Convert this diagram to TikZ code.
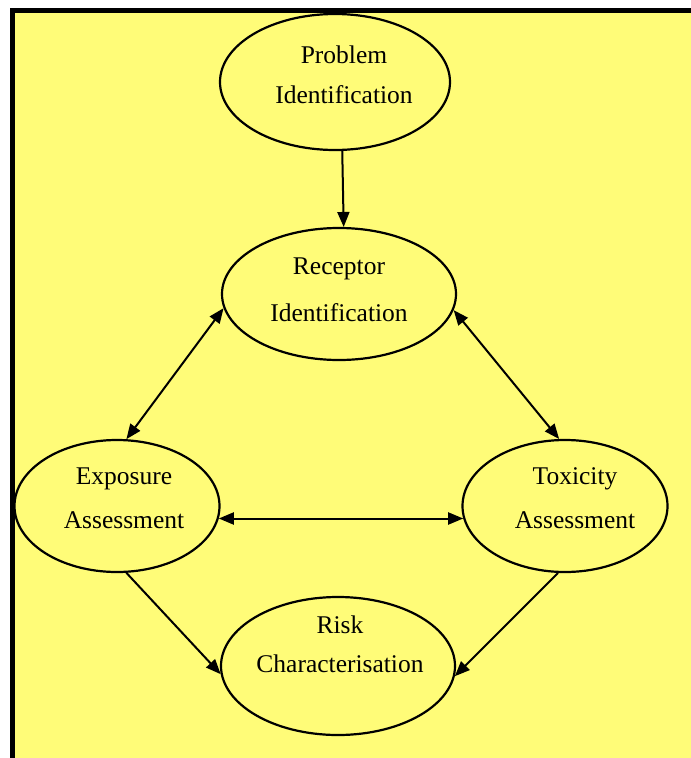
\documentclass[tikz,border=0pt]{standalone}
\usepackage{fontspec}
\setmainfont{Liberation Serif}
\usetikzlibrary{arrows.meta,shapes.geometric}
\definecolor{paleyellow}{RGB}{255,252,120}

\begin{document}
\begin{tikzpicture}[x=1pt, y=-1pt,
    bubble/.style={ellipse, draw, line width=2.2pt, inner sep=0pt},
    lbl/.style={font=\fontsize{25.5}{#1}\selectfont, align=center, inner sep=0pt},
    lbl/.default=43,
    arr/.style={-{Triangle[length=15pt,width=12pt]}, line width=2pt},
    dbl/.style={{Triangle[length=15pt,width=12pt]}-{Triangle[length=15pt,width=12pt]}, line width=2pt}]
            \useasboundingbox (0,0) rectangle (691,758);

            % Yellow panel with the black edge on top and left
            \fill[paleyellow] (15,13) rectangle (691,758);
            \fill[black] (10,8) rectangle (691,13);
            \fill[black] (10,8) rectangle (15,758);

            % Ellipses for the five stages
            \foreach \nm/\x/\y/\w/\h in {prob/335/82/230/136, recep/339/294/234/132, expo/117/506/205/132, toxi/565/506/205/132, risk/338/666/234/138}
            \node[bubble, minimum width=\w, minimum height=\h] (\nm) at (\x,\y) {};

            % Labels inside the ellipses
            \node[lbl=40] (probT) at (344,74.5) {Problem\\Identification};
            \node[lbl=47] (recepT) at (339,290) {Receptor\\Identification};
            \node[lbl=44] (expoT) at (124,498.5) {Exposure\\Assessment};
            \node[lbl=44] (toxiT) at (575,498.5) {Toxicity\\Assessment};
            \node[lbl=39] (riskT) at (340,644) {Risk\\Characterisation};

            % Links between the stages
            \draw[arr] (prob.276.7) -- (recep.86.4);
            \draw[dbl] (recep.187.4) -- (expo.82.5);
            \draw[dbl] (recep.352.6) -- (toxi.95.9);
            \draw[dbl] (expo.353) -- (toxi.187);
            \draw[arr] (expo.278.6) -- (risk.184.4);
            \draw[arr] (toxi.264) -- (risk.355.4);
        \end{tikzpicture}
\end{document}
